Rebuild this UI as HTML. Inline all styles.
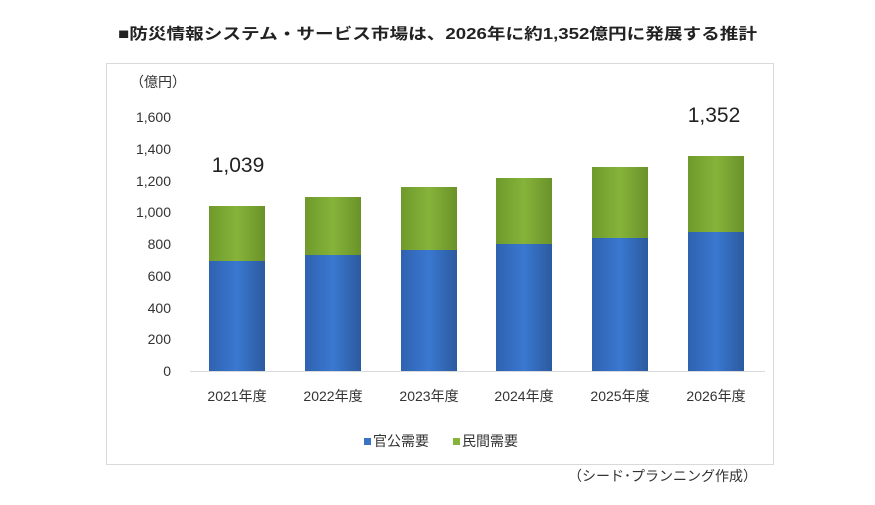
<!DOCTYPE html>
<html><head><meta charset="utf-8"><style>
body{margin:0;background:#fff;width:875px;height:500px;overflow:hidden;font-family:"Liberation Sans","Noto Sans CJK JP",sans-serif}
</style></head><body>
<svg width="875" height="500" xmlns="http://www.w3.org/2000/svg" font-family="'Liberation Sans','Noto Sans CJK JP',sans-serif">
<defs>
<linearGradient id="b" x1="0" x2="1"><stop offset="0" stop-color="#2f62b0"/><stop offset="0.5" stop-color="#3a78d0"/><stop offset="1" stop-color="#2c5aa0"/></linearGradient>
<linearGradient id="g" x1="0" x2="1"><stop offset="0" stop-color="#6f9a2c"/><stop offset="0.5" stop-color="#86b33a"/><stop offset="1" stop-color="#6a922a"/></linearGradient>
</defs>
<text x="118" y="39" font-size="15.5" font-weight="bold" fill="#222" textLength="639" lengthAdjust="spacingAndGlyphs">■防災情報システム・サービス市場は、2026年に約1,352億円に発展する推計</text>
<rect x="106.5" y="63.5" width="667" height="401" fill="#fff" stroke="#d9d9d9"/>
<text x="158" y="87" text-anchor="middle" font-size="14" fill="#333">（億円）</text>
<g font-size="14" fill="#333" text-anchor="end">
<text x="171" y="122">1,600</text><text x="171" y="154">1,400</text><text x="171" y="186">1,200</text><text x="171" y="217">1,000</text><text x="171" y="249">800</text><text x="171" y="281">600</text><text x="171" y="313">400</text><text x="171" y="344">200</text><text x="171" y="376">0</text>
</g>
<line x1="190" y1="371.5" x2="765" y2="371.5" stroke="#d9d9d9"/>
<g>
<rect x="209" y="261" width="56" height="110" fill="url(#b)"/><rect x="209" y="206" width="56" height="55" fill="url(#g)"/>
<rect x="305" y="255" width="56" height="116" fill="url(#b)"/><rect x="305" y="197" width="56" height="58" fill="url(#g)"/>
<rect x="401" y="250" width="56" height="121" fill="url(#b)"/><rect x="401" y="187" width="56" height="63" fill="url(#g)"/>
<rect x="496" y="244" width="56" height="127" fill="url(#b)"/><rect x="496" y="178" width="56" height="66" fill="url(#g)"/>
<rect x="592" y="238" width="56" height="133" fill="url(#b)"/><rect x="592" y="167" width="56" height="71" fill="url(#g)"/>
<rect x="688" y="232" width="56" height="139" fill="url(#b)"/><rect x="688" y="156" width="56" height="76" fill="url(#g)"/>
</g>
<text x="238" y="172" text-anchor="middle" font-size="21" fill="#222">1,039</text>
<text x="714" y="122" text-anchor="middle" font-size="21" fill="#222">1,352</text>
<g font-size="14" fill="#333" text-anchor="middle">
<text x="237" y="401">2021年度</text><text x="333" y="401">2022年度</text><text x="429" y="401">2023年度</text><text x="524" y="401">2024年度</text><text x="620" y="401">2025年度</text><text x="716" y="401">2026年度</text>
</g>
<rect x="364" y="438" width="7" height="7" fill="#3a72c4"/>
<text x="373" y="446" font-size="14" fill="#333">官公需要</text>
<rect x="453" y="438" width="7" height="7" fill="#86b33a"/>
<text x="462" y="446" font-size="14" fill="#333">民間需要</text>
<text x="757" y="481" text-anchor="end" font-size="14" fill="#333">（シード･プランニング作成）</text>
</svg>
</body></html>
